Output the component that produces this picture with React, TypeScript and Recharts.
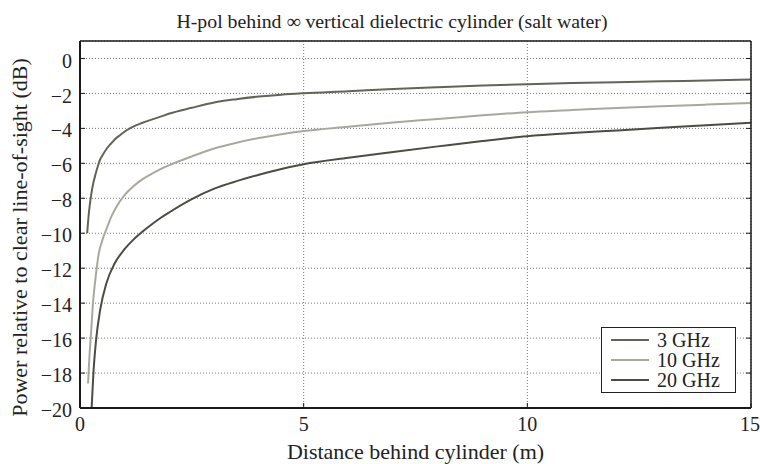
import { LineChart, Line, XAxis, YAxis, CartesianGrid, Legend } from 'recharts';

// distances (m) and power (dB), one pair of arrays per frequency
const dist3GHz = [0.16, 0.2, 0.25, 0.3, 0.35, 0.4, 0.45, 0.5, 0.6, 0.7, 0.8, 0.9, 1.0, 1.2, 1.4, 1.6, 1.8, 2.0, 2.5, 3, 3.5, 4, 4.5, 5, 6, 7, 8, 9, 10, 11, 12, 13, 14, 15];
const db3GHz = [-10, -8.8, -7.8, -7.1, -6.6, -6.15, -5.78, -5.55, -5.15, -4.85, -4.58, -4.38, -4.18, -3.88, -3.68, -3.5, -3.33, -3.15, -2.82, -2.52, -2.33, -2.18, -2.07, -1.99, -1.87, -1.74, -1.64, -1.55, -1.47, -1.41, -1.36, -1.31, -1.26, -1.21];

const dist10GHz = [0.18, 0.21, 0.25, 0.29, 0.35, 0.42, 0.5, 0.6, 0.7, 0.8, 1.0, 1.2, 1.4, 1.6, 1.8, 2.0, 2.5, 3, 3.5, 4, 4.5, 5, 6, 7, 8, 9, 10, 11, 12, 13, 14, 15];
const db10GHz = [-18.6, -17.1, -15.6, -14.0, -12.5, -11.15, -10.4, -9.7, -9.05, -8.55, -7.8, -7.3, -6.9, -6.6, -6.33, -6.1, -5.6, -5.15, -4.82, -4.55, -4.33, -4.15, -3.9, -3.66, -3.46, -3.25, -3.07, -2.95, -2.83, -2.73, -2.64, -2.55];

const dist20GHz = [0.26, 0.3, 0.36, 0.45, 0.59, 0.77, 1.0, 1.2, 1.4, 1.6, 1.8, 2.0, 2.5, 3, 3.5, 4, 4.5, 5, 6, 7, 8, 9, 10, 11, 12, 13, 14, 15];
const db20GHz = [-20, -18, -16.1, -14.4, -12.86, -11.75, -10.9, -10.35, -9.9, -9.5, -9.13, -8.8, -8.05, -7.45, -7.02, -6.65, -6.32, -6.05, -5.68, -5.35, -5.03, -4.72, -4.45, -4.27, -4.12, -3.97, -3.82, -3.68];

const xTicks = [0, 5, 10, 15];
const yTicks = [0, -2, -4, -6, -8, -10, -12, -14, -16, -18, -20];

const toPoints = (xs: number[], ys: number[]) => xs.map((x, i) => ({ x, db: ys[i] }));

const series = [
  { name: '3 GHz', data: toPoints(dist3GHz, db3GHz), color: '#626456' },
  { name: '10 GHz', data: toPoints(dist10GHz, db10GHz), color: '#aaa89d' },
  { name: '20 GHz', data: toPoints(dist20GHz, db20GHz), color: '#4b4c43' },
];

const FONT = "'Liberation Serif', 'Times New Roman', Tinos, 'DejaVu Serif', serif";

// plot box (MATLAB-like layout)
const W = 760;
const H = 464;
const LEFT = 80;
const RIGHT = 9;
const TOP = 41;
const BOTTOM = 56;

const fmt = (v: number) => (v < 0 ? '\u2212' + Math.abs(v) : String(v));

const LegendBox = () => (
  <div
    style={{
      border: '1px solid #222',
      background: '#fff',
      padding: '2px 6px 2px 9px',
      fontFamily: FONT,
      fontSize: 20,
      lineHeight: '20px',
      color: '#222',
    }}
  >
    {series.map((s) => (
      <div key={s.name} style={{ display: 'flex', alignItems: 'center', height: 20 }}>
        <span style={{ display: 'inline-block', width: 38, height: 2, background: s.color, marginRight: 8 }} />
        <span>{s.name}</span>
      </div>
    ))}
  </div>
);

const YLabel = () => {
  const cx = 19;
  const cy = (TOP + H - BOTTOM) / 2 + 13;
  return (
    <text x={cx} y={cy} transform={`rotate(-90, ${cx}, ${cy})`} textAnchor="middle" dominantBaseline="central" style={{ fontFamily: FONT }} fontSize={22} fill="#222">
      Power relative to clear line-of-sight (dB)
    </text>
  );
};

const XLabel = () => (
  <text x={(LEFT + W - RIGHT) / 2} y={H - BOTTOM + 43} textAnchor="middle" dominantBaseline="central" style={{ fontFamily: FONT }} fontSize={22} fill="#222">
    Distance behind cylinder (m)
  </text>
);

export default function App() {
  return (
    <div style={{ position: 'fixed', left: 0, top: 0, width: W, height: H, background: '#fff' }}>
      <div
        style={{
          position: 'absolute',
          left: 92,
          width: 600,
          top: 10,
          textAlign: 'center',
          fontFamily: FONT,
          fontSize: 19.8,
          color: '#222',
          zIndex: 2,
          whiteSpace: 'nowrap',
        }}
      >
        H-pol behind ∞ vertical dielectric cylinder (salt water)
      </div>
      <LineChart width={W} height={H} margin={{ top: 0, right: 0, bottom: 0, left: 0 }} style={{ fontFamily: FONT }}>
        <CartesianGrid stroke="#777" strokeDasharray="1 2" />
        <XAxis
          dataKey="x"
          type="number"
          domain={[0, 15]}
          ticks={xTicks}
          height={BOTTOM}
          tickSize={-5}
          tickMargin={14}
          tickFormatter={fmt}
          stroke="#1a1a1a"
          axisLine={{ stroke: '#1a1a1a', strokeWidth: 2 }}
          tick={{ fill: '#222', fontSize: 20, style: { fontFamily: FONT } }}
          label={<XLabel />}
        />
        <XAxis
          xAxisId="top"
          orientation="top"
          type="number"
          domain={[0, 15]}
          allowDataOverflow
          ticks={xTicks}
          height={TOP}
          tickSize={-5}
          tickFormatter={() => ''}
          stroke="#1a1a1a"
          axisLine={{ stroke: '#1a1a1a', strokeWidth: 1.5 }}
        />
        <YAxis
          type="number"
          domain={[-20, 1]}
          allowDataOverflow
          ticks={yTicks}
          width={LEFT}
          tickSize={-5}
          tickMargin={13}
          tickFormatter={fmt}
          stroke="#1a1a1a"
          axisLine={{ stroke: '#1a1a1a', strokeWidth: 2 }}
          tick={{ fill: '#222', fontSize: 20, dy: 2, style: { fontFamily: FONT } }}
          label={<YLabel />}
        />
        <YAxis
          yAxisId="right"
          orientation="right"
          type="number"
          domain={[-20, 1]}
          allowDataOverflow
          ticks={yTicks}
          width={RIGHT}
          tickSize={-5}
          tickFormatter={() => ''}
          stroke="#1a1a1a"
          axisLine={{ stroke: '#1a1a1a', strokeWidth: 1.5 }}
        />
        <Legend
          layout="vertical"
          align="center"
          verticalAlign="middle"
          content={<LegendBox />}
          wrapperStyle={{ left: 601, top: 327, width: 135 }}
        />
        {series.map((s) => (
          <Line
            key={s.name}
            data={s.data}
            dataKey="db"
            name={s.name}
            type="monotone"
            stroke={s.color}
            strokeWidth={2}
            dot={false}
            activeDot={false}
            isAnimationActive={false}
          />
        ))}
      </LineChart>
    </div>
  );
}
